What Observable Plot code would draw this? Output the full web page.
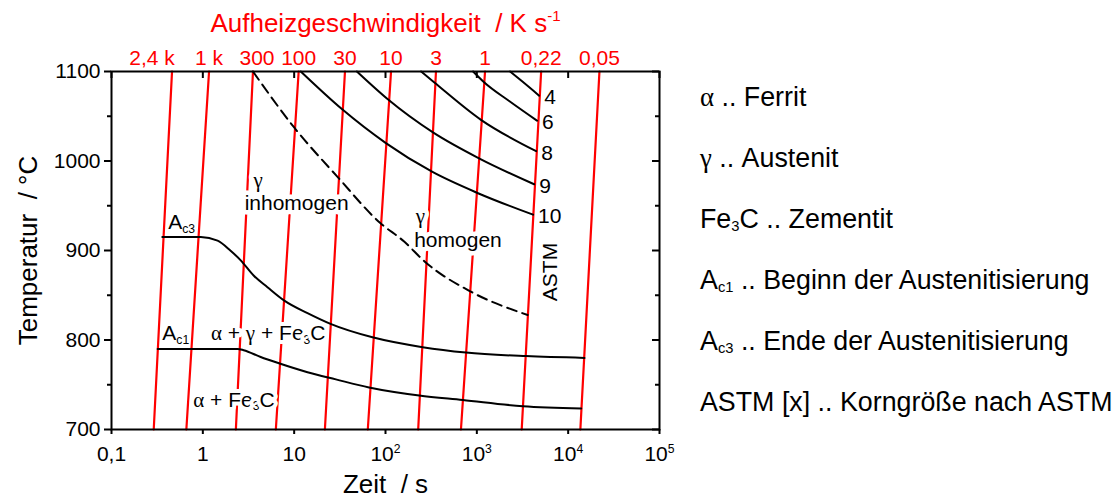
<!DOCTYPE html>
<html>
<head>
<meta charset="utf-8">
<script src="https://cdn.jsdelivr.net/npm/d3@7"></script>
<script src="https://cdn.jsdelivr.net/npm/@observablehq/plot@0.6"></script>
<style>
  html, body { margin: 0; padding: 0; background: #fff; }
  #wrap { position: relative; width: 1120px; height: 499px; overflow: hidden; }
  #chart { position: absolute; left: 0; top: 0; }
  #legend { position: absolute; left: 700px; top: 67px; font-family: 'Liberation Sans', Arial, sans-serif; font-size: 26.8px; color: #000; }
  #legend div { height: 61px; line-height: 61px; white-space: nowrap; }
  #legend sub { font-size: 0.55em; vertical-align: -0.2em; line-height: 0; }
  #legend .gr { font-family: 'Liberation Serif', 'DejaVu Serif', serif; }
</style>
</head>
<body>
<div id="wrap">
  <div id="chart"></div>
  <div id="legend"></div>
</div>
<script>
// Heating rates (K/s) and the time (s) at which each heating line reaches 700 °C and 1100 °C
const rateLabels = ["2,4 k", "1 k", "300", "100", "30", "10", "3", "1", "0,22", "0,05"];
const tAt700  = [0.29, 0.66, 2.3, 6.3, 21.7, 64, 228, 670, 3100, 13600];
const tAt1100 = [0.46, 1.17, 3.54, 11.2, 36, 115, 357, 1230, 5060, 22000];
const tempRange = [700, 1100];

// Ac3: end of austenitisation
const ac3Time = [0.36, 0.95, 1.45, 2.0, 2.6, 3.6, 5.1, 7.8, 14, 25, 72, 255, 760, 3460, 15100];
const ac3Temp = [915, 915, 911, 900, 889, 872, 859, 844, 830, 818, 803, 792, 786, 782, 780];

// Ac1: start of austenitisation
const ac1Time = [0.32, 2.4, 2.8, 4.3, 6.8, 14, 28.6, 66, 234, 700, 3190, 13900];
const ac1Temp = [790, 790, 788.6, 781, 774, 764, 756, 747, 738, 733, 726, 723.5];

// Boundary between inhomogeneous and homogeneous austenite (dashed)
const homTime = [3.54, 9.9, 30, 87, 160, 266, 860, 3600];
const homTemp = [1100, 1038, 982, 931, 910, 888, 854, 828];

// Lines of constant ASTM grain size
const astmSizes = ["4", "6", "8", "9", "10"];
const astmTime = [
  [2310, 3130, 4810],
  [910, 1200, 2260, 4570],
  [245, 340, 1110, 4460],
  [48.6, 106, 331, 1057, 4240],
  [11.8, 33.3, 101, 323, 1031, 4130]
];
const astmTemp = [
  [1100, 1089, 1073],
  [1100, 1088, 1067, 1045],
  [1100, 1088, 1046, 1011],
  [1100, 1069, 1032, 1003, 974],
  [1100, 1058, 1020, 988, 964, 940]
];

// Axis ticks
const xTicks = [0.1, 1, 10, 100, 1000, 10000, 100000];
const xTickLabels = ["0,1", "1", "10", "10^2", "10^3", "10^4", "10^5"];
const yTicks = [700, 800, 900, 1000, 1100];
const yMinorTicks = [750, 850, 950, 1050];

// Phase-field annotations (time in s, temperature in °C)
const noteText = ["A_{c3}", "A_{c1}", "α + γ + Fe_3C", "α + Fe_3C", "γ", "inhomogen", "γ", "homogen", "ASTM"];
const noteTime = [0.418, 0.36, 5.2, 2.19, 3.58, 2.87, 215, 206, 6400];
const noteTemp = [931, 807, 807, 733, 978, 953, 938, 911, 876];

// Legend entries
const legendTerms = ["α", "γ", "Fe_3C", "A_{c1}", "A_{c3}", "ASTM [x]"];
const legendMeanings = ["Ferrit", "Austenit", "Zementit", "Beginn der Austenitisierung", "Ende der Austenitisierung", "Korngröße nach ASTM"];

const RED = "#ff0000";
const FONT = "'Liberation Sans', Arial, sans-serif";
const SERIF = "'Liberation Serif', 'DejaVu Serif', serif";

// Tables built from the arrays above
const rateRows = rateLabels.map((label, i) => ({label, t0: tAt700[i], t1: tAt1100[i]}));
const rateLines = rateRows.flatMap(r => [
  {label: r.label, t: r.t0, T: tempRange[0]},
  {label: r.label, t: r.t1, T: tempRange[1]}
]);
const ac3 = ac3Time.map((t, i) => ({t, T: ac3Temp[i]}));
const ac1 = ac1Time.map((t, i) => ({t, T: ac1Temp[i]}));
const hom = homTime.map((t, i) => ({t, T: homTemp[i]}));
const astm = astmSizes.flatMap((g, k) => astmTime[k].map((t, i) => ({g, t, T: astmTemp[k][i]})));
const astmEnds = astmSizes.map((g, k) => ({g, t: astmTime[k].at(-1), T: astmTemp[k].at(-1)}));
const notes = noteText.map((text, i) => ({text, t: noteTime[i], T: noteTemp[i]}));
const xTickText = new Map(xTicks.map((v, i) => [v, xTickLabels[i]]));

const W = 680, H = 499;
const mL = 111, mR = 21, mT = 71, mB = 70;
const frameW = W - mL - mR, frameH = H - mT - mB;

const isPhase = d => d.text === "α + γ + Fe_3C" || d.text === "α + Fe_3C";
const isGamma = d => ["γ", "inhomogen", "homogen"].includes(d.text);

const chart = Plot.plot({
  width: W,
  height: H,
  marginLeft: mL,
  marginRight: mR,
  marginTop: mT,
  marginBottom: mB,
  style: {fontFamily: FONT, background: "#fff", color: "#000"},
  x: {type: "log", domain: [xTicks[0], xTicks.at(-1)]},
  y: {domain: tempRange},
  marks: [
    // heating lines at constant rate
    Plot.line(rateLines, {x: "t", y: "T", z: "label", stroke: RED, strokeWidth: 2.2}),
    // phase-field labels knock out the red lines behind them
    Plot.text(notes, {
      filter: isGamma, x: "t", y: "T", text: "text", textAnchor: "start", fontSize: 21,
      stroke: "#fff", strokeWidth: 9, strokeLinejoin: "round", fill: "#000"
    }),
    Plot.text(notes, {
      filter: isPhase, x: "t", y: "T", text: "text", textAnchor: "middle", fontSize: 21,
      stroke: "#fff", strokeWidth: 8, strokeLinejoin: "round", fill: "#000"
    }),
    Plot.text(notes, {
      filter: d => d.text.startsWith("A_"),
      x: "t", y: "T", text: "text", textAnchor: "start", fontSize: 21, fill: "#000"
    }),
    Plot.text(notes, {
      filter: d => d.text === "ASTM",
      x: "t", y: "T", text: "text", rotate: -90, fontSize: 21, fill: "#000"
    }),
    // transformation curves
    Plot.line(ac3, {x: "t", y: "T", stroke: "#000", strokeWidth: 2, curve: "monotone-x"}),
    Plot.line(ac1, {x: "t", y: "T", stroke: "#000", strokeWidth: 2, curve: "monotone-x"}),
    Plot.line(hom, {x: "t", y: "T", stroke: "#000", strokeWidth: 2, strokeDasharray: "10,6", curve: "monotone-x"}),
    Plot.line(astm, {x: "t", y: "T", z: "g", stroke: "#000", strokeWidth: 2, curve: "monotone-x"}),
    Plot.text(astmEnds, {x: "t", y: "T", text: "g", textAnchor: "start", dx: 5, dy: 2, fontSize: 21, fill: "#000"}),
    // frame and axes
    Plot.frame({stroke: "#000", strokeWidth: 2}),
    Plot.axisY({ticks: yTicks, tickSize: 7, tickPadding: 4, fontSize: 21, label: null, strokeWidth: 2,
                tickFormat: d => String(d)}),
    Plot.axisY({ticks: yMinorTicks, tickSize: 4, tickFormat: () => "", label: null, strokeWidth: 2}),
    Plot.tickY(yTicks, {y: d => d, insetLeft: frameW - 7, strokeWidth: 2}),
    Plot.tickY(yMinorTicks, {y: d => d, insetLeft: frameW - 4, strokeWidth: 2}),
    Plot.axisX({ticks: xTicks, tickSize: 5, tickPadding: 12, fontSize: 21, label: null, strokeWidth: 2,
                tickFormat: d => xTickText.get(d)}),
    Plot.tickX(xTicks, {x: d => d, insetBottom: frameH - 7, strokeWidth: 2}),
    // heating-rate labels along the top edge
    Plot.text(rateRows, {filter: d => d.label === "2,4 k", x: "t1", y: () => tempRange[1], text: "label", dx: -20, dy: -13, fill: RED, fontSize: 21}),
    Plot.text(rateRows, {filter: d => d.label === "300", x: "t1", y: () => tempRange[1], text: "label", dx: 4, dy: -13, fill: RED, fontSize: 21}),
    Plot.text(rateRows, {filter: d => d.label !== "2,4 k" && d.label !== "300", x: "t1", y: () => tempRange[1], text: "label", dy: -13, fill: RED, fontSize: 21}),
    // axis titles
    Plot.text(["Aufheizgeschwindigkeit\u00a0\u00a0/ K s^{-1}"], {frameAnchor: "top", textAnchor: "middle", lineAnchor: "middle", dy: -48, fill: RED, fontSize: 26}),
    Plot.text(["Temperatur\u00a0\u00a0/ °C"], {frameAnchor: "left", textAnchor: "middle", lineAnchor: "middle", rotate: -90, dx: -83, fontSize: 26, fill: "#000"}),
    Plot.text(["Zeit\u00a0\u00a0/ s"], {frameAnchor: "bottom", textAnchor: "middle", lineAnchor: "middle", dy: 55, fontSize: 26, fill: "#000"})
  ]
});
document.getElementById("chart").appendChild(chart);

// Turn "_x" / "_{..}" into subscripts, "^x" / "^{..}" into superscripts, Greek letters into serif
function richText(root) {
  const ns = "http://www.w3.org/2000/svg";
  for (const el of root.querySelectorAll("text")) {
    if (el.children.length) continue;
    const src = el.textContent;
    if (!/[_^αγ]/.test(src)) continue;
    const size = parseFloat(getComputedStyle(el).fontSize) || 21;
    el.textContent = "";
    let shift = 0;
    const add = (str, opts = {}) => {
      const ts = document.createElementNS(ns, "tspan");
      ts.textContent = str;
      const target = opts.shift || 0;
      if (target !== shift) { ts.setAttribute("dy", target - shift); shift = target; }
      if (opts.small) ts.setAttribute("font-size", size * 0.58);
      if (opts.serif) ts.setAttribute("font-family", SERIF);
      el.appendChild(ts);
    };
    let i = 0;
    while (i < src.length) {
      const c = src[i];
      if (c === "_" || c === "^") {
        let body;
        if (src[i + 1] === "{") { const j = src.indexOf("}", i); body = src.slice(i + 2, j); i = j + 1; }
        else { body = src[i + 1]; i += 2; }
        add(body, {small: true, shift: c === "_" ? size * 0.15 : -size * 0.42});
      } else if (c === "α" || c === "γ") {
        add(c, {serif: true}); i++;
      } else {
        let j = i;
        while (j < src.length && !"_^αγ".includes(src[j])) j++;
        add(src.slice(i, j)); i = j;
      }
    }
  }
}
richText(chart);

// Legend on the right
function toHTML(s) {
  return s
    .replace(/_\{([^}]*)\}/g, "<sub>$1</sub>")
    .replace(/_(.)/g, "<sub>$1</sub>")
    .replace(/([αγ])/g, '<span class="gr">$1</span>');
}
const legend = document.getElementById("legend");
legendTerms.forEach((term, i) => {
  const row = document.createElement("div");
  row.innerHTML = toHTML(term) + " .. " + legendMeanings[i];
  legend.appendChild(row);
});
</script>
</body>
</html>
